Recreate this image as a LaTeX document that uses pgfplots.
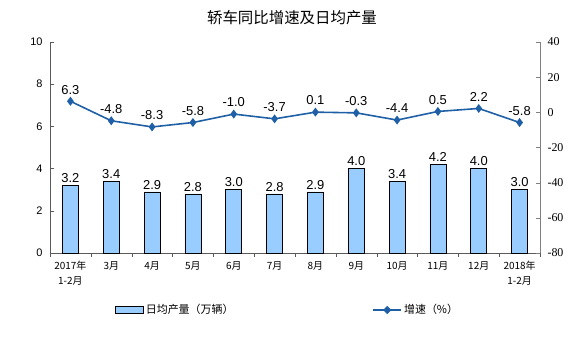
\documentclass[border=0pt]{standalone}
\usepackage{pgfplots}
\pgfplotsset{compat=1.18}
\usepackage{fontspec}
\setmainfont{Liberation Sans}
\newfontfamily\cjk{Noto Sans CJK SC}
\newfontfamily\serifnum{Liberation Serif}
\definecolor{barblue}{HTML}{99CCFF}
\definecolor{lineblue}{HTML}{1F5FA6}
\definecolor{axgray}{HTML}{808080}
\begin{document}
\begin{tikzpicture}
\useasboundingbox (0,0) rectangle (580bp,352bp);
\node[font=\cjk\fontsize{15.5}{16}\selectfont] at (292bp,334bp) {轿车同比增速及日均产量};
\begin{axis}[
  at={(50bp,99bp)}, anchor=south west, scale only axis,
  width=490bp, height=211bp,
  xmin=-0.5, xmax=11.5, ymin=0, ymax=10,
  axis y line*=left, axis x line*=bottom,
  axis line style={draw=axgray!70!black, line width=0.8pt},
  ytick={0,2,...,10},
  yticklabel style={font=\fontsize{11}{11}\selectfont, xshift=-4bp},
  /pgf/number format/assume math mode=true,
  tick align=inside,
  major tick length=4bp,
  xtick={0,...,11},
  xticklabels={{2017年\\1-2月},3月,4月,5月,6月,7月,8月,9月,10月,11月,12月,{2018年\\1-2月}},
  xticklabel style={font=\cjk\fontsize{10}{15}\selectfont, align=center, anchor=north, yshift=-5bp},
  major x tick style={draw=none},
  minor xtick={-0.5,0.5,...,11.5},
  minor x tick style={yshift=-4bp, draw=axgray!70!black},
  minor tick length=4bp,
  ytick style={draw=axgray!70!black},
  clip=false,
]
\addplot[ybar, bar width=16bp, fill=barblue, draw=black, line width=0.6pt,
  nodes near coords,
  nodes near coords style={font=\fontsize{13}{13}\selectfont, black, /pgf/number format/fixed, /pgf/number format/fixed zerofill, /pgf/number format/precision=1, anchor=south, yshift=-1bp}]
coordinates {(0,3.2) (1,3.4) (2,2.9) (3,2.8) (4,3.0) (5,2.8) (6,2.9) (7,4.0) (8,3.4) (9,4.2) (10,4.0) (11,3.0)};
\end{axis}
\begin{axis}[
  at={(50bp,99bp)}, anchor=south west, scale only axis,
  width=490bp, height=211bp,
  xmin=-0.5, xmax=11.5, ymin=-80, ymax=40,
  axis y line*=right, axis x line=none,
  axis line style={draw=axgray, line width=0.8pt},
  ytick={-80,-60,...,40},
  yticklabel style={font=\serifnum\fontsize{12}{12}\selectfont, xshift=4bp},
  /pgf/number format/assume math mode=true,
  tick align=inside, major tick length=4bp,
  ytick style={draw=axgray},
  clip=false,
  legend style={at={(0.485,-0.27)}, anchor=center, draw=none, fill=none,
    legend columns=2, font=\cjk\fontsize{11}{11}\selectfont,
    /tikz/every even column/.append style={column sep=137bp}},
  legend cell align=left,
]
\addlegendimage{legend image code/.code={\draw[fill=barblue, draw=black, line width=0.6pt] (0bp,-3.5bp) rectangle (28bp,3.5bp);}}
\addlegendentry{日均产量（万辆）}
\addplot[color=lineblue, line width=1.6pt, mark=diamond*, mark size=3.2bp,
  mark options={fill=lineblue, draw=lineblue},
  legend image code/.code={\draw[lineblue, line width=1.6pt] (0bp,0bp) -- (28bp,0bp); \fill[lineblue] (14bp,0bp) +(-3bp,0)--+(0,3bp)--+(3bp,0)--+(0,-3bp)--cycle;},
  nodes near coords,
  nodes near coords style={font=\fontsize{13}{13}\selectfont, black, /pgf/number format/fixed, /pgf/number format/fixed zerofill, /pgf/number format/precision=1, anchor=south, yshift=3bp}]
coordinates {(0,6.3) (1,-4.8) (2,-8.3) (3,-5.8) (4,-1.0) (5,-3.7) (6,0.1) (7,-0.3) (8,-4.4) (9,0.5) (10,2.2) (11,-5.8)};
\addlegendentry{增速（\%）}
\end{axis}
\end{tikzpicture}
\end{document}
